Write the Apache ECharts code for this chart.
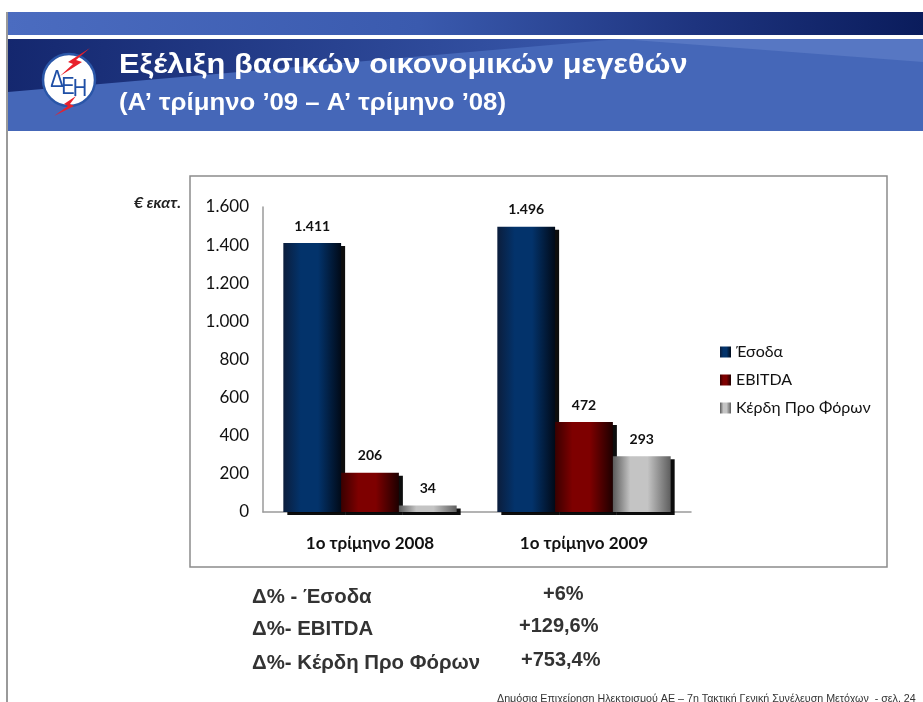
<!DOCTYPE html>
<html>
<head>
<meta charset="utf-8">
<script src="https://cdn.jsdelivr.net/npm/echarts@6/dist/echarts.min.js"></script>
<style>
  html, body { margin: 0; padding: 0; background: #fff; }
  #container { width: 923px; height: 702px; }
</style>
</head>
<body>
<div id="container"></div>
<script>
// data
const categories = ['1ο τρίμηνο 2008', '1ο τρίμηνο 2009'];
const seriesNames = ['Έσοδα', 'EBITDA', 'Κέρδη Προ Φόρων'];
const revenue = [1411, 1496];
const ebitda = [206, 472];
const ebt = [34, 293];
const yTicks = { min: 0, max: 1600, interval: 200 };
const deltaLabels = ['Δ% - Έσοδα', 'Δ%- EBITDA', 'Δ%- Κέρδη Προ Φόρων'];
const deltaValues = ['+6%', '+129,6%', '+753,4%'];

const fmt = v => String(v).replace(/\B(?=(\d{3})+(?!\d))/g, '.');

function barGrad(edgeL, mid, edgeR) {
    return new echarts.graphic.LinearGradient(0, 0, 1, 0, [
        { offset: 0, color: edgeL },
        { offset: 0.3, color: mid },
        { offset: 0.6, color: mid },
        { offset: 1, color: edgeR }
    ]);
}
const fills = [
    barGrad('#0b1d3c', '#03336b', '#010a18'),
    barGrad('#3a0000', '#7e0000', '#1e0000'),
    barGrad('#5a5a5a', '#c4c4c4', '#5e5e5e')
];

const myChart = echarts.init(document.getElementById('container'));

const makeSeries = (name, data, i) => ({
    name: name,
    type: 'bar',
    data: data,
    barGap: '0%',
    barCategoryGap: '19%',
    z: 3 + i,
    itemStyle: {
        color: fills[i],
        shadowColor: 'rgba(0,0,0,0.95)',
        shadowBlur: 0,
        shadowOffsetX: 4,
        shadowOffsetY: 3
    },
    label: {
        show: true,
        position: 'top',
        distance: 10,
        formatter: p => fmt(p.value),
        fontFamily: 'Lato',
        fontWeight: 'bold',
        fontSize: 14,
        color: '#111'
    }
});

const blue = '#1f4fa6';
const graphics = [
    // left page rule
    { type: 'rect', shape: { x: 6, y: 12, width: 2, height: 690 }, style: { fill: '#9a9a9a' }, z: 1 },
    // top band
    {
        type: 'rect', shape: { x: 8, y: 12, width: 915, height: 23 }, z: 1,
        style: { fill: new echarts.graphic.LinearGradient(0, 0, 1, 0, [
            { offset: 0, color: '#4b6cc0' }, { offset: 0.45, color: '#3a5aae' },
            { offset: 0.75, color: '#1e347f' }, { offset: 1, color: '#0a1c5c' }]) }
    },
    // title band
    { type: 'rect', shape: { x: 8, y: 39, width: 915, height: 92 }, style: { fill: '#4567b8' }, z: 1 },
    {
        type: 'polygon', shape: { points: [[8, 39], [620, 39], [8, 92]] }, z: 1,
        style: { fill: new echarts.graphic.LinearGradient(0, 0, 1, 1, [
            { offset: 0, color: '#14276e' }, { offset: 1, color: '#3a5aae' }]) }
    },
    {
        type: 'polygon', shape: { points: [[620, 39], [923, 39], [923, 62]] }, z: 1,
        style: { fill: 'rgba(120,150,215,0.35)' }
    },
    // logo
    { type: 'circle', shape: { cx: 69, cy: 80, r: 26 }, style: { fill: '#fff', stroke: '#2a56a8', lineWidth: 2.5 }, z: 2 },
    { type: 'polygon', shape: { points: [[90, 48], [68, 62], [73, 64], [60, 76], [82, 62], [76, 60]] }, style: { fill: '#e8212b' }, z: 3 },
    { type: 'polygon', shape: { points: [[76, 96], [64, 104], [68, 106], [54, 116], [74, 106], [70, 104]] }, style: { fill: '#e8212b' }, z: 3 },
    { type: 'text', x: 57, y: 80, scaleY: 1.2, style: { text: 'Δ', fill: blue, font: '20px "Liberation Sans"', align: 'center', verticalAlign: 'middle' }, z: 4 },
    { type: 'text', x: 68, y: 87, scaleY: 1.2, style: { text: 'Ε', fill: blue, font: '20px "Liberation Sans"', align: 'center', verticalAlign: 'middle' }, z: 4 },
    { type: 'text', x: 80, y: 89, scaleY: 1.2, style: { text: 'Η', fill: blue, font: '20px "Liberation Sans"', align: 'center', verticalAlign: 'middle' }, z: 4 },
    // titles
    {
        type: 'text', x: 119, y: 51, scaleX: 1.1, z: 4,
        style: {
            text: 'Εξέλιξη βασικών οικονομικών μεγεθών', fill: '#fff',
            font: 'bold 28px "Liberation Sans"',
            textShadowColor: 'rgba(0,0,0,0.55)', textShadowOffsetX: 2, textShadowOffsetY: 2
        }
    },
    {
        type: 'text', x: 119, y: 92, scaleX: 1.12, z: 4,
        style: {
            text: '(Α’ τρίμηνο ’09 – Α’ τρίμηνο ’08)', fill: '#fff',
            font: 'bold 23px "Liberation Sans"',
            textShadowColor: 'rgba(0,0,0,0.55)', textShadowOffsetX: 2, textShadowOffsetY: 2
        }
    },
    // chart frame
    { type: 'rect', shape: { x: 190, y: 176, width: 697, height: 391 }, style: { fill: 'none', stroke: '#8c8c8c', lineWidth: 1.5 }, z: 1 },
    // unit
    { type: 'text', x: 181, y: 203, style: { text: '€ εκατ.', fill: '#222', font: 'italic bold 16px Lato', align: 'right', verticalAlign: 'middle' }, z: 4 },
    // footer
    { type: 'text', x: 497, y: 694, style: { text: 'Δημόσια Επιχείρηση Ηλεκτρισμού ΑΕ – 7η Τακτική Γενική Συνέλευση Μετόχων  - σελ. 24', fill: '#333', font: '10.7px "Liberation Sans"' }, z: 4 }
];

const deltaY = [597, 629, 663];
const deltaX = [543, 519, 521];
deltaLabels.forEach((t, i) => {
    graphics.push({ type: 'text', x: 252, y: deltaY[i], style: { text: t, fill: '#333', font: 'bold 20.4px "Liberation Sans"', verticalAlign: 'middle' }, z: 4 });
    graphics.push({ type: 'text', x: deltaX[i], y: deltaY[i] - 3, style: { text: deltaValues[i], fill: '#333', font: 'bold 20px "Liberation Sans"', verticalAlign: 'middle' }, z: 4 });
});

const option = {
    animation: false,
    grid: { left: 263, top: 207, width: 428, height: 305 },
    legend: {
        orient: 'vertical',
        left: 715,
        top: 339,
        icon: 'rect',
        itemWidth: 11,
        itemHeight: 11,
        itemGap: 12,
        data: seriesNames,
        textStyle: { fontFamily: 'Lato', fontSize: 16, color: '#111' },
        itemStyle: { shadowOffsetX: 0, shadowOffsetY: 0, shadowColor: 'transparent' }
    },
    xAxis: {
        type: 'category',
        data: categories,
        axisLine: { lineStyle: { color: '#9a9a9a', width: 1.5 } },
        axisTick: { show: false },
        axisLabel: { margin: 23, fontFamily: 'Lato', fontWeight: 'bold', fontSize: 17, color: '#111' }
    },
    yAxis: {
        type: 'value',
        min: yTicks.min,
        max: yTicks.max,
        interval: yTicks.interval,
        axisLine: { show: true, lineStyle: { color: '#9a9a9a', width: 1.5 } },
        axisTick: { show: false },
        splitLine: { show: false },
        axisLabel: { margin: 14, fontFamily: 'Lato', fontSize: 17, color: '#111', formatter: v => fmt(v) }
    },
    graphic: graphics,
    series: [
        makeSeries(seriesNames[0], revenue, 0),
        makeSeries(seriesNames[1], ebitda, 1),
        makeSeries(seriesNames[2], ebt, 2)
    ]
};
myChart.setOption(option);
window.addEventListener('resize', () => {
    myChart.resize()
})
</script>
</body>
</html>
